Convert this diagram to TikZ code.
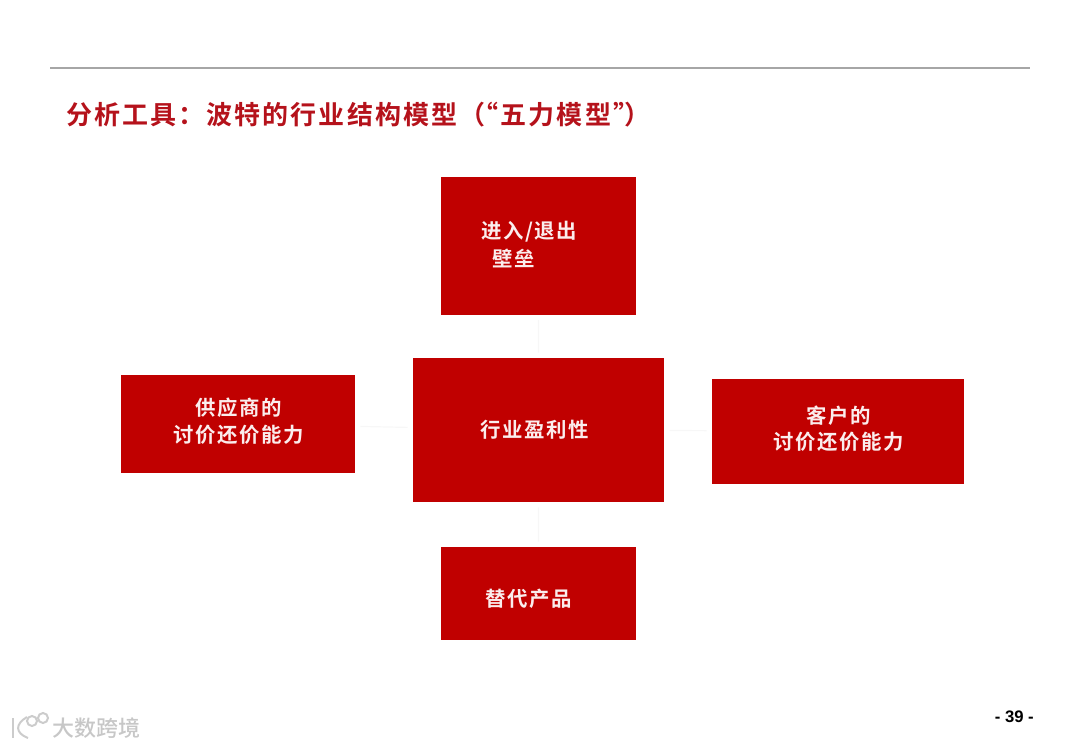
\documentclass[tikz,border=0pt]{standalone}
\usepackage{fontspec}
\setmainfont{Liberation Sans}
\newfontfamily\cjk{Noto Sans CJK SC Medium}
\newfontfamily\cjkb[LetterSpace=8]{Noto Sans CJK SC Bold}
\newfontfamily\cjkt[LetterSpace=8]{Noto Sans CJK SC Bold}
\definecolor{boxred}{HTML}{C00000}
\definecolor{titlered}{HTML}{B5121B}
\tikzset{
  redbox/.style={fill=boxred,inner sep=0pt,outer sep=0pt,anchor=north west},
  boxtext/.style={text=white!93!boxred,font=\cjkb\fontsize{15.3}{20}\selectfont,inner sep=0pt,align=center},
  faint/.style={draw=black!3,line width=0.9pt,shorten >=4pt,shorten <=4pt},
  wm/.style={draw=black!20,line width=1.5pt}
}
\begin{document}
\begin{tikzpicture}[x=0.75pt,y=-0.75pt]
\useasboundingbox (0,0) rectangle (1080,748);
\coordinate (ruleL) at (50,68);
\coordinate (ruleR) at (1030,68);
\draw[draw=black!35,line width=0.9pt] (ruleL) -- (ruleR);
\node[anchor=west,inner sep=0pt,text=titlered,font=\cjkt\fontsize{19.5}{24}\selectfont] (title) at (66,114.5) {分析工具：波特的行业结构模型（\kern-9.5pt“五力模型”\kern-11pt）};
\node[redbox,minimum width=146pt,minimum height=103pt] (top) at (441,177.5) {};
\node[redbox,minimum width=188.5pt,minimum height=108pt] (mid) at (413,358) {};
\node[redbox,minimum width=175.5pt,minimum height=73.5pt] (left) at (121,375) {};
\node[redbox,minimum width=189pt,minimum height=79pt] (right) at (712,378.5) {};
\node[redbox,minimum width=146pt,minimum height=69.5pt] (bottom) at (441,547) {};
\draw[faint] (top) -- (mid);
\draw[faint] (mid) -- (bottom);
\draw[faint] (left) -- (mid);
\draw[faint] (mid) -- (right);
\node[boxtext,anchor=west] (t1a) at (481,231.5) {进入/退出};
\node[boxtext,anchor=west] (t1b) at (492,258.5) {壁垒};
\node[boxtext] (t2) at (535,429.5) {行业盈利性};
\node[boxtext] (t3a) at (239,407.5) {供应商的};
\node[boxtext] (t3b) at (239,434.5) {讨价还价能力};
\node[boxtext] (t4a) at (839,415.5) {客户的};
\node[boxtext] (t4b) at (839,441.5) {讨价还价能力};
\node[boxtext,anchor=west] (t5) at (485,598.5) {替代产品};
\node[anchor=east,inner sep=0pt,font=\bfseries\fontsize{12.5}{14}\selectfont] (page) at (1034,717) {- 39 -};
% watermark
\node[anchor=west,inner sep=0pt,text=black!22,font=\cjk\fontsize{16.5}{20}\selectfont] (wmtext) at (52,728) {大数跨境};
\draw[wm] (13,718) -- (13,738);
\draw[wm] (27,717) .. controls (15,724) and (15,733) .. (28,738);
\draw[wm] (32,721) circle (5);
\draw[wm] (43,718) circle (5);
\end{tikzpicture}
\end{document}
